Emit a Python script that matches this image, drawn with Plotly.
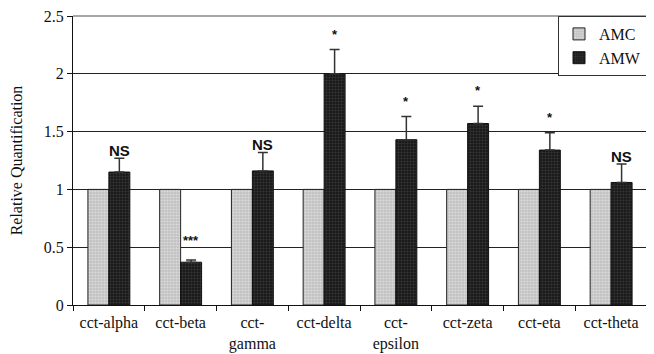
import plotly.graph_objects as go

categories = ["cct-alpha", "cct-beta", "cct-<br>gamma", "cct-delta", "cct-<br>epsilon",
              "cct-zeta", "cct-eta", "cct-theta"]
amc_values = [1, 1, 1, 1, 1, 1, 1, 1]
amw_values = [1.15, 0.37, 1.16, 2.0, 1.43, 1.57, 1.34, 1.06]
amw_errors = [0.12, 0.02, 0.16, 0.21, 0.20, 0.15, 0.15, 0.16]
significance = ["NS", "***", "NS", "*", "*", "*", "*", "NS"]
y_ticks = [0, 0.5, 1, 1.5, 2, 2.5]
y_tick_labels = ["0", "0.5", "1", "1.5", "2", "2.5"]

serif = "Liberation Serif, Times New Roman, serif"

fig = go.Figure()
fig.add_trace(go.Bar(
    name="AMC", x=categories, y=amc_values,
    marker=dict(color="#cfcfcf", line=dict(color="#222222", width=1),
                pattern=dict(shape=".", bgcolor="#c2c2c2", fgcolor="#f4f4f4",
                             size=3, solidity=0.4)),
))
fig.add_trace(go.Bar(
    name="AMW", x=categories, y=amw_values,
    marker=dict(color="#222222", line=dict(color="#111111", width=1),
                pattern=dict(shape=".", bgcolor="#181818", fgcolor="#555555",
                             size=3, solidity=0.4)),
    error_y=dict(type="data", array=amw_errors, arrayminus=[0] * len(amw_errors),
                 symmetric=False, color="#333333", thickness=1.5, width=5),
))

for cat, v, e, s in zip(categories, amw_values, amw_errors, significance):
    if s == "NS":
        fnt = dict(family="Arial, Liberation Sans, sans-serif", size=15, color="#111111")
        txt = "<b>NS</b>"
        ysh = -3
    else:
        fnt = dict(family="Arial, Liberation Sans, sans-serif", size=13, color="#111111")
        txt = "<b>" + s + "</b>"
        ysh = 6 if s == "*" else 10
    fig.add_annotation(x=cat, y=v + e, text=txt, showarrow=False, xref="x", yref="y",
                       xshift=10.5, yanchor="bottom", yshift=ysh, font=fnt)

# page body has an 8px margin, so the figure is 8px smaller than the window
fig.update_layout(
    width=646, height=346,
    margin=dict(l=65, r=7, t=8, b=49, autoexpand=False),
    paper_bgcolor="white", plot_bgcolor="white",
    barmode="group", bargap=0.416, bargroupgap=0,
    showlegend=True,
    legend=dict(x=1, y=1, xanchor="right", yanchor="top", bgcolor="white",
                bordercolor="#333333", borderwidth=1, itemwidth=30,
                font=dict(family=serif, size=16, color="#111111"),
                tracegroupgap=0),
    font=dict(family=serif, size=16, color="#111111"),
)
fig.update_xaxes(
    type="category", showline=True, linecolor="#111111", linewidth=1,
    ticks="outside", tickson="boundaries", ticklen=5, tickcolor="#111111",
    showgrid=False, tickfont=dict(family=serif, size=16, color="#111111"),
    ticklabelstandoff=3, automargin=False,
)
fig.update_yaxes(
    range=[0, 2.5], tickvals=y_ticks, ticktext=y_tick_labels,
    showline=True, linecolor="#111111", linewidth=1,
    ticks="outside", ticklen=5, tickcolor="#111111",
    showgrid=True, gridcolor="#222222", gridwidth=1, zeroline=False,
    tickfont=dict(family=serif, size=16, color="#111111"),
    ticklabeloverflow="allow", automargin=False,
    title=dict(text="Relative Quantification", standoff=19,
               font=dict(family=serif, size=16, color="#111111")),
)
# gray top and right frame
fig.add_shape(type="line", xref="paper", yref="paper", x0=0, x1=1, y0=1, y1=1,
              line=dict(color="#8a8a8a", width=1.5))
fig.add_shape(type="line", xref="paper", yref="paper", x0=1, x1=1, y0=0, y1=1,
              line=dict(color="#8a8a8a", width=1.5))

fig.write_html("out.html")
